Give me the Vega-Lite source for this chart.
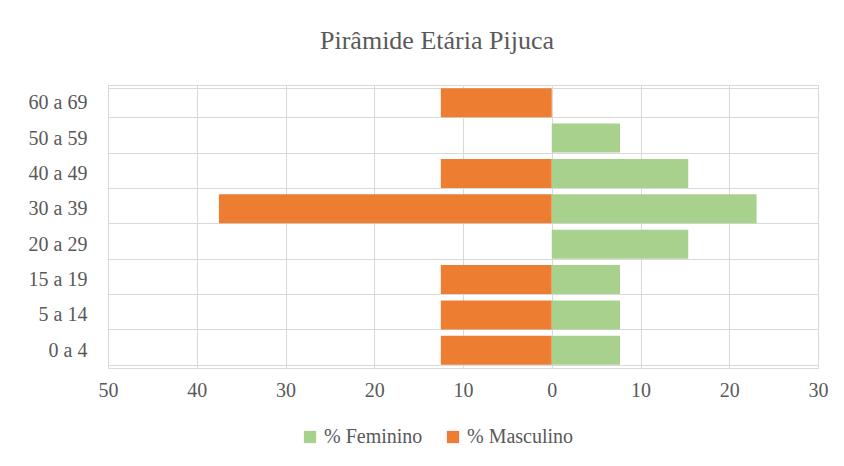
{
  "$schema": "https://vega.github.io/schema/vega-lite/v6.json",
  "width": 710,
  "height": 283,
  "autosize": "none",
  "padding": {"left": 108, "top": 85, "right": 26, "bottom": 98},
  "background": "white",
  "title": {
    "text": "Pirâmide Etária Pijuca",
    "font": "Liberation Serif, serif",
    "fontSize": 26,
    "fontWeight": "normal",
    "color": "#595959",
    "anchor": "middle",
    "dx": -26,
    "offset": 21
  },
  "config": {
    "view": {"stroke": "#d9d9d9"},
    "font": "Liberation Serif, serif"
  },
  "data": {
    "values": [
      {"idade": "60 a 69", "sexo": "% Masculino", "valor": -12.5},
      {"idade": "50 a 59", "sexo": "% Feminino", "valor": 7.69},
      {"idade": "40 a 49", "sexo": "% Masculino", "valor": -12.5},
      {"idade": "40 a 49", "sexo": "% Feminino", "valor": 15.38},
      {"idade": "30 a 39", "sexo": "% Masculino", "valor": -37.5},
      {"idade": "30 a 39", "sexo": "% Feminino", "valor": 23.08},
      {"idade": "20 a 29", "sexo": "% Feminino", "valor": 15.38},
      {"idade": "15 a 19", "sexo": "% Masculino", "valor": -12.5},
      {"idade": "15 a 19", "sexo": "% Feminino", "valor": 7.69},
      {"idade": "5 a 14", "sexo": "% Masculino", "valor": -12.5},
      {"idade": "5 a 14", "sexo": "% Feminino", "valor": 7.69},
      {"idade": "0 a 4", "sexo": "% Masculino", "valor": -12.5},
      {"idade": "0 a 4", "sexo": "% Feminino", "valor": 7.69}
    ]
  },
  "mark": {"type": "bar"},
  "encoding": {
    "y": {
      "field": "idade",
      "type": "nominal",
      "sort": ["60 a 69", "50 a 59", "40 a 49", "30 a 39", "20 a 29", "15 a 19", "5 a 14", "0 a 4"],
      "scale": {"paddingInner": 0.18, "paddingOuter": 0.09},
      "axis": {
        "title": null,
        "tickBand": "extent",
        "grid": true,
        "gridColor": "#d9d9d9",
        "ticks": false,
        "domain": false,
        "labelFont": "Liberation Serif, serif",
        "labelFontSize": 20,
        "labelColor": "#595959",
        "labelPadding": 21
      }
    },
    "x": {
      "field": "valor",
      "type": "quantitative",
      "stack": null,
      "scale": {"domain": [-50, 30], "nice": false, "zero": false},
      "axis": {
        "title": null,
        "values": [-50, -40, -30, -20, -10, 0, 10, 20, 30],
        "labelExpr": "abs(datum.value)",
        "labelFlush": false,
        "labelOverlap": false,
        "grid": true,
        "gridColor": "#d9d9d9",
        "ticks": false,
        "domain": false,
        "labelFont": "Liberation Serif, serif",
        "labelFontSize": 20,
        "labelColor": "#595959",
        "labelPadding": 12
      }
    },
    "color": {
      "field": "sexo",
      "type": "nominal",
      "scale": {"domain": ["% Feminino", "% Masculino"], "range": ["#A9D18E", "#ED7D31"]},
      "legend": {
        "title": null,
        "orient": "none",
        "direction": "horizontal",
        "legendX": 192,
        "legendY": 342,
        "symbolType": "square",
        "symbolSize": 150,
        "symbolStrokeWidth": 0,
        "labelFont": "Liberation Serif, serif",
        "labelFontSize": 20,
        "labelColor": "#595959",
        "labelOffset": 4,
        "columnPadding": 20
      }
    }
  }
}
